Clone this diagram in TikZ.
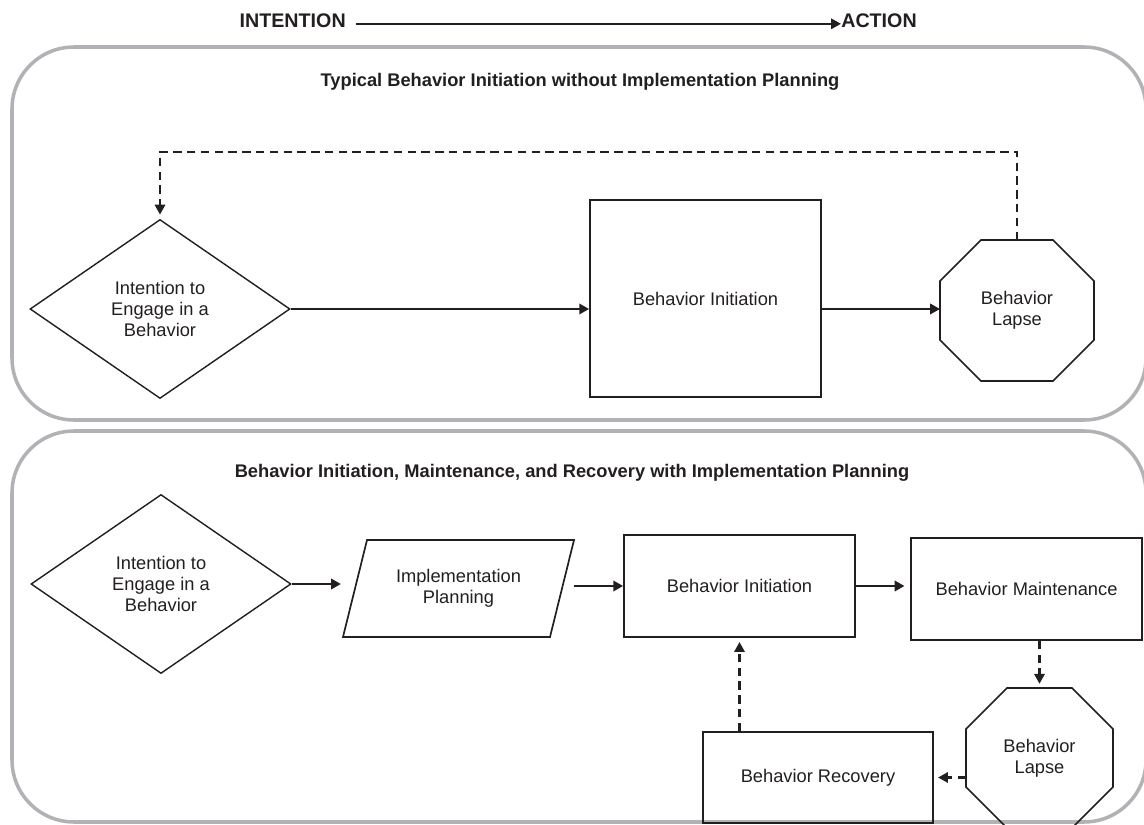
\documentclass[tikz,border=0pt]{standalone}
\usepackage{fontspec}
\setmainfont{Liberation Sans}
\usepackage{xcolor}
\usepackage{tikz}
\usetikzlibrary{positioning}
\usetikzlibrary{arrows.meta}
\usetikzlibrary{shapes}

\definecolor{ink}{RGB}{35,31,32}
\definecolor{panelGray}{RGB}{178,178,182}

% octagon and parallelogram outlines round a (plain) node
\newcommand{\lapseOutline}[1]{\draw[ink, line width = 1.1pt] ([xshift = 41*\oneUnit]#1.north west) -- ([xshift = -41*\oneUnit]#1.north east) -- ([yshift = -41*\oneUnit]#1.north east) -- ([yshift = 41*\oneUnit]#1.south east) -- ([xshift = -41*\oneUnit]#1.south east) -- ([xshift = 41*\oneUnit]#1.south west) -- ([yshift = 41*\oneUnit]#1.south west) -- ([yshift = -41*\oneUnit]#1.north west) -- cycle;}
\newcommand{\planOutline}[1]{\draw[ink, line width = 1.2pt] ([xshift = 12*\oneUnit]#1.north west) -- ([xshift = 12*\oneUnit]#1.north east) -- ([xshift = -12*\oneUnit]#1.south east) -- ([xshift = -12*\oneUnit]#1.south west) -- cycle;}

\begin{document}
\begin{tikzpicture}[
            >={Stealth[inset=0pt,length=7pt,angle'=55]},
            stepBox/.style = { rectangle, draw = ink, line width = 1.2pt, text = ink, align = center, font = \fontsize{13}{15}\selectfont, inner sep = 2pt },
            choiceBox/.style = { diamond, draw = ink, line width = 1pt, text = ink, align = center, font = \fontsize{13}{15}\selectfont, inner sep = 0pt, minimum width = 260*\oneUnit, minimum height = 179*\oneUnit },
            planBox/.style = { rectangle, text = ink, align = center, font = \fontsize{13}{15}\selectfont, inner sep = 0pt, outer sep = 0pt, minimum width = 207*\oneUnit, minimum height = 97*\oneUnit },
            lapseBox/.style = { rectangle, text = ink, align = center, font = \fontsize{13}{15}\selectfont, inner sep = 0pt, outer sep = 0pt },
            heading/.style = { font = \bfseries\fontsize{13}{15}\selectfont, text = ink, inner sep = 0pt },
            endLabel/.style = { font = \bfseries\fontsize{14}{16}\selectfont, text = ink, inner sep = 0pt },
            panelFrame/.style = { draw = panelGray, line width = 2.5pt, rounded corners = 62*\oneUnit },
            forwardFlow/.style = { ->, draw = ink, line width = 1.8pt },
            returnFlow/.style = { ->, draw = ink, line width = 1.6pt, dash pattern = on 6pt off 3.8pt, shorten > = 3pt },
                    ]
        \def\oneUnit{0.025cm}

        \useasboundingbox (0*\oneUnit, 0*\oneUnit) rectangle (1144*\oneUnit, 824*\oneUnit);

        % intention -> action
        \node[endLabel, anchor = east] (INTENTlabel) at (346*\oneUnit, 803*\oneUnit) {INTENTION};
        \node[endLabel, anchor = west] (ACTlabel) at (841*\oneUnit, 803*\oneUnit) {ACTION};
        \draw [->, draw = ink, line width = 1.5pt, shorten < = 7pt] ([yshift = -2pt]INTENTlabel.east) -- ([yshift = -2pt]ACTlabel.west);

        % the two panels
        \draw[panelFrame] (12*\oneUnit, 404*\oneUnit) rectangle (1146*\oneUnit, 777*\oneUnit);
        \draw[panelFrame] (12*\oneUnit, 2*\oneUnit) rectangle (1146*\oneUnit, 393*\oneUnit);

        % typical
        \node[heading] (TOPheading) at (580*\oneUnit, 742*\oneUnit) {Typical Behavior Initiation without Implementation Planning};

        \node[choiceBox] (TOPintent) at (160*\oneUnit, 515*\oneUnit) {Intention to\\Engage in a\\Behavior};
        \node[stepBox, minimum width = 231*\oneUnit, minimum height = 197*\oneUnit] (TOPinit) at (705.5*\oneUnit, 525.5*\oneUnit) {Behavior Initiation};
        \node[lapseBox, minimum width = 154*\oneUnit, minimum height = 141*\oneUnit] (TOPlapse) at (1017*\oneUnit, 513.5*\oneUnit) {Behavior\\Lapse};
        \lapseOutline{TOPlapse}

        \draw [forwardFlow] (TOPintent.east) -- (TOPintent.east -| TOPinit.west);
        \draw [forwardFlow] (TOPinit.east |- TOPintent.east) -- (TOPintent.east -| TOPlapse.west);
        \draw [returnFlow] (TOPlapse.north) -- ++ (0*\oneUnit, 88*\oneUnit) -| (TOPintent.north);

        % with implementation planning
        \node[heading] (BOTheading) at (572*\oneUnit, 351*\oneUnit) {Behavior Initiation, Maintenance, and Recovery with Implementation Planning};

        \node[choiceBox] (BOTintent) at (161*\oneUnit, 240*\oneUnit) {Intention to\\Engage in a\\Behavior};
        \node[planBox] (BOTplan) at (458.5*\oneUnit, 235.5*\oneUnit) {Implementation\\Planning};
        \planOutline{BOTplan}
        \node[stepBox, minimum width = 231*\oneUnit, minimum height = 102*\oneUnit] (BOTinit) at (739.5*\oneUnit, 238*\oneUnit) {Behavior Initiation};
        \node[stepBox, minimum width = 231*\oneUnit, minimum height = 102*\oneUnit] (BOTmaint) at (1026.5*\oneUnit, 235*\oneUnit) {Behavior Maintenance};
        \node[lapseBox, minimum width = 147*\oneUnit, minimum height = 140*\oneUnit] (BOTlapse) at (1039.5*\oneUnit, 66*\oneUnit) {Behavior\\Lapse};
        \lapseOutline{BOTlapse}
        \node[stepBox, minimum width = 230*\oneUnit, minimum height = 91*\oneUnit] (BOTrecov) at (818*\oneUnit, 46.5*\oneUnit) {Behavior Recovery};

        \draw [forwardFlow, shorten > = 10pt] (BOTintent.east) -- (BOTintent.east -| BOTplan.west);
        \draw [forwardFlow] (BOTplan.east |- BOTinit.west) ++ (12*\oneUnit, 0*\oneUnit) -- (BOTinit.west);
        \draw [forwardFlow, shorten > = 4pt] (BOTinit.east) -- (BOTinit.east -| BOTmaint.west);
        \draw [returnFlow] (BOTlapse.north |- BOTmaint.south) -- (BOTlapse.north);
        \draw [returnFlow] (BOTlapse.west |- BOTrecov.east) -- (BOTrecov.east);
        \draw [returnFlow] (BOTinit.south |- BOTrecov.north) -- (BOTinit.south);
\end{tikzpicture}
\end{document}
